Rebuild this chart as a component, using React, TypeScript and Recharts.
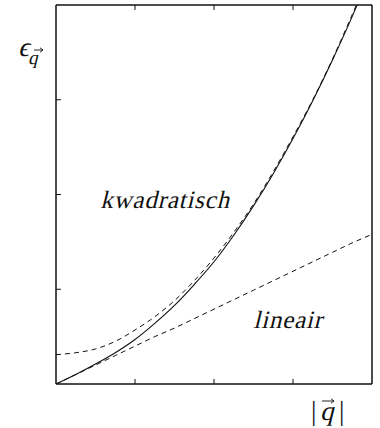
import { LineChart, Line, XAxis, YAxis } from "recharts";

// wave number |q| (axis units) and the three dispersion curves
const qValues = [0, 0.25, 0.5, 0.75, 1, 1.25, 1.5, 1.75, 2, 2.25, 2.5, 2.75, 3, 3.25, 3.5, 3.75, 4];
const fullCurve = [0, 0.1, 0.21, 0.33, 0.47, 0.64, 0.83, 1.05, 1.29, 1.57, 1.88, 2.22, 2.59, 2.99, 3.42, 3.88, 4.38];
const quadraticCurve = [0.31, 0.33, 0.37, 0.45, 0.57, 0.71, 0.88, 1.09, 1.33, 1.6, 1.9, 2.24, 2.61, 3.0, 3.43, 3.9, 4.39];
const linearCurve = [0, 0.1, 0.2, 0.3, 0.4, 0.5, 0.59, 0.69, 0.79, 0.89, 0.99, 1.09, 1.19, 1.29, 1.39, 1.49, 1.58];

const xTicks = [1, 2, 3];
const yTicks = [1, 2, 3];

const data = qValues.map((q, i) => ({
  q,
  full: fullCurve[i],
  quad: quadraticCurve[i],
  lin: linearCurve[i],
}));

const W = 380;
const H = 428;
const INK = "#111";
const SERIF = "Liberation Serif, DejaVu Serif, serif";

// axes drawn as a closed frame with short inward ticks and no labels
// (size 1, since an axis of size 0 is not drawn at all)
const frameAxis = {
  tick: () => <g />,
  tickSize: 5,
  mirror: true,
  axisLine: { stroke: INK, strokeWidth: 1.5 },
  tickLine: { stroke: INK, strokeWidth: 1 },
};

// small vector arrow drawn over a symbol
function VecArrow({ x, y, len }: { x: number; y: number; len: number }) {
  return (
    <g stroke={INK} strokeWidth={0.9} fill="none">
      <path d={`M${x} ${y}H${x + len}`} />
      <path d={`M${x + len - 3} ${y - 2.2}L${x + len} ${y}L${x + len - 3} ${y + 2.2}`} />
    </g>
  );
}

// upright face slanted by hand
function Slanted({ x, y, size, anchor = "start", spacing = 0, children }: {
  x: number; y: number; size: number; anchor?: "start" | "middle"; spacing?: number; children: React.ReactNode;
}) {
  return (
    <text
      transform={`translate(${x} ${y}) skewX(-14)`}
      textAnchor={anchor}
      style={{ fontFamily: SERIF, fontSize: size, letterSpacing: spacing }}
    >
      {children}
    </text>
  );
}

export default function App() {
  return (
    <div style={{ position: "absolute", left: 0, top: 0, width: W, height: H, background: "#fff" }}>
      <LineChart
        width={W}
        height={H}
        data={data}
        margin={{ top: 5, right: 8, bottom: 44, left: 56 }}
      >
        <XAxis xAxisId="b" dataKey="q" type="number" domain={[0, 4]} ticks={xTicks} orientation="bottom" height={1} allowDataOverflow {...frameAxis} />
        <XAxis xAxisId="t" dataKey="q" type="number" domain={[0, 4]} ticks={xTicks} orientation="top" height={1} {...frameAxis} />
        <YAxis yAxisId="l" type="number" domain={[0, 4]} ticks={yTicks} orientation="left" width={1} allowDataOverflow {...frameAxis} />
        <YAxis yAxisId="r" type="number" domain={[0, 4]} ticks={yTicks} orientation="right" width={1} {...frameAxis} />
        <Line xAxisId="b" yAxisId="l" dataKey="quad" type="monotone" stroke={INK} strokeWidth={1} strokeDasharray="5 4" dot={false} isAnimationActive={false} />
        <Line xAxisId="b" yAxisId="l" dataKey="lin" type="linear" stroke={INK} strokeWidth={1} strokeDasharray="5 4" dot={false} isAnimationActive={false} />
        <Line xAxisId="b" yAxisId="l" dataKey="full" type="monotone" stroke={INK} strokeWidth={1.1} dot={false} isAnimationActive={false} />
      </LineChart>
      <svg width={W} height={H} style={{ position: "absolute", left: 0, top: 0, pointerEvents: "none" }}>
        <g fill={INK}>
          <Slanted x={18} y={56} size={27}>
            ϵ<tspan dx={1} dy={8} style={{ fontSize: 19 }}>q</tspan>
          </Slanted>
          <VecArrow x={34} y={50} len={9} />
          <Slanted x={165} y={208} size={25} anchor="middle" spacing={0.8}>kwadratisch</Slanted>
          <Slanted x={288} y={328} size={25} anchor="middle" spacing={0.8}>lineair</Slanted>
          <text x={311} y={420} style={{ fontFamily: SERIF, fontSize: 27 }}>|</text>
          <Slanted x={320} y={420} size={27}>q</Slanted>
          <text x={339} y={420} style={{ fontFamily: SERIF, fontSize: 27 }}>|</text>
          <VecArrow x={322} y={401} len={12} />
        </g>
      </svg>
    </div>
  );
}
